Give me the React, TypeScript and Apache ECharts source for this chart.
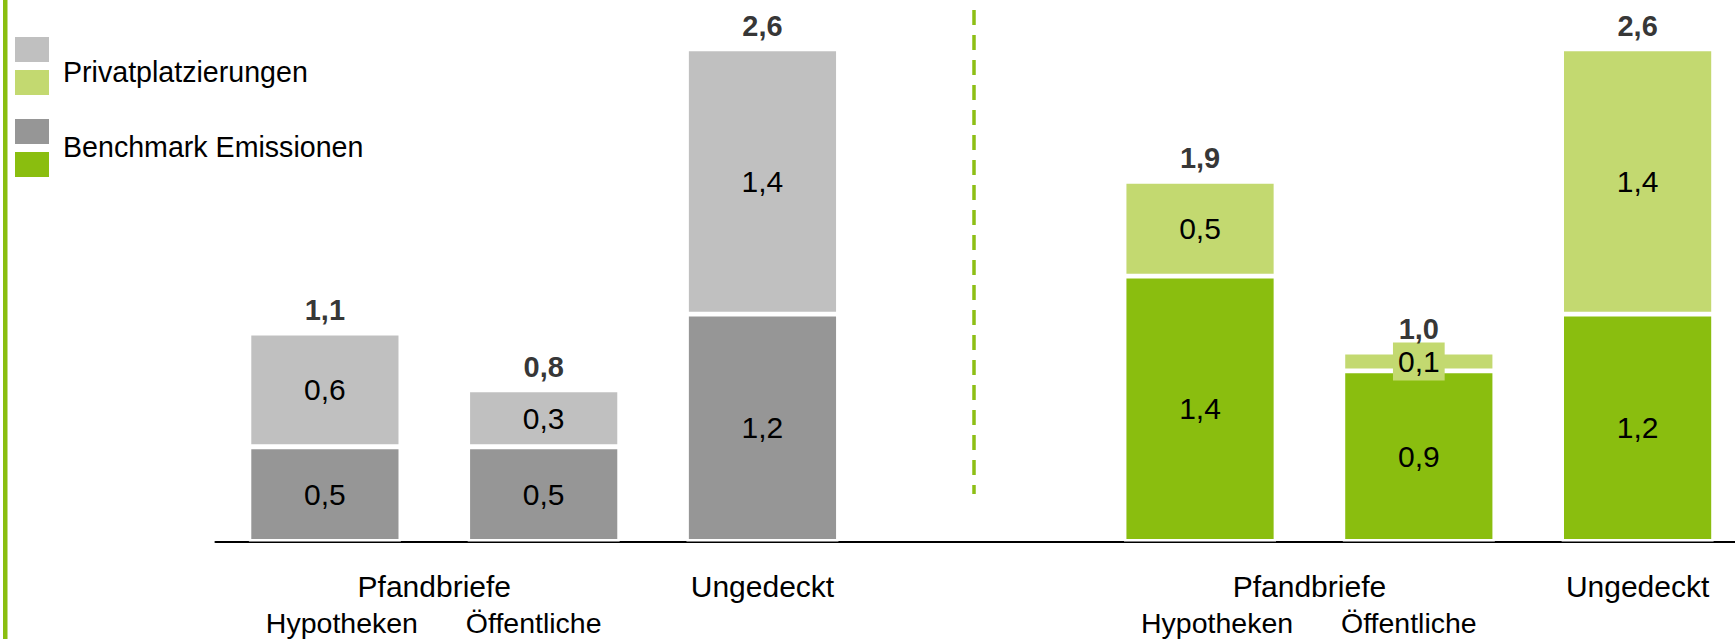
import React, { useEffect, useRef } from "react";
import * as echarts from "echarts";

// ---- data ----
const categories = ["Hyp-L", "Oeff-L", "Ung-L", "Gap", "Hyp-R", "Oeff-R", "Ung-R"];
const tickLabels = ["Hypotheken", "Öffentliche", "Ungedeckt", "", "Hypotheken", "Öffentliche", "Ungedeckt"];
const groupTickLabels = ["", "", "Pfandbriefe", "", "", "", "", "", "", "", "Pfandbriefe", "", "", "", ""];
const benchmark = [0.5, 0.5, 1.2, null, 1.4, 0.9, 1.2];
const privat = [0.6, 0.3, 1.4, null, 0.5, 0.1, 1.4];
const totals = [1.1, 0.8, 2.6, null, 1.9, 1.0, 2.6];
const panel = ["grey", "grey", "grey", null, "green", "green", "green"];
const legendNames = ["Privatplatzierungen", "Benchmark Emissionen"];

// ---- styles ----
const COLORS: any = {
  grey: { benchmark: "#969696", privat: "#C0C0C0" },
  green: { benchmark: "#8ABE0F", privat: "#C3D970" },
};
const FONT = "'Liberation Sans', Arial, Helvetica, sans-serif";
const fmt = (v: number) => v.toFixed(1).replace(".", ",");

export default function App() {
  const ref = useRef<HTMLDivElement>(null);

  useEffect(() => {
    if (!ref.current) return;
    const chart = echarts.init(ref.current, null, { renderer: "svg" });

    const barData = (values: (number | null)[], key: string) =>
      values.map((v, i) => {
        if (v == null) return "-";
        const color = COLORS[panel[i] as string][key];
        const item: any = { value: v, itemStyle: { color } };
        if (v < 0.2) {
          item.label = { backgroundColor: color, padding: [4, 5] };
        }
        return item;
      });

    const barLabel = {
      show: true,
      position: "inside",
      color: "#000",
      fontFamily: FONT,
      fontSize: 30,
      lineHeight: 30,
      formatter: (p: any) => fmt(p.value),
    };

    const option: any = {
      animation: false,
      backgroundColor: "#fff",
      grid: {
        left: 215.5,
        right: -12,
        top: 10.9,
        bottom: 97.5,
        containLabel: false,
        outerBoundsMode: "none",
      },
      xAxis: [
        {
          type: "category",
          data: categories,
          position: "bottom",
          axisLine: { show: true, onZero: false, lineStyle: { color: "#000", width: 2.2 } },
          axisTick: { show: false },
          splitLine: { show: false },
          axisLabel: {
            interval: 0,
            margin: 26,
            color: "#000",
            fontFamily: FONT,
            fontSize: 30,
            lineHeight: 38,
            formatter: (_v: string, i: number) => {
              const t = tickLabels[i];
              if (t === "Hypotheken") return "\n{h|" + t + "}";
              if (t === "Öffentliche") return "\n{o|" + t + "}";
              return t;
            },
            rich: {
              h: { fontFamily: FONT, fontSize: 28.5, lineHeight: 34, color: "#000", padding: [0, 0, 0, 34] },
              o: { fontFamily: FONT, fontSize: 28.5, lineHeight: 34, color: "#000", padding: [0, 20, 0, 0] },
            },
          },
        },
        {
          type: "category",
          data: groupTickLabels.map((_, i) => "slot" + i),
          position: "bottom",
          offset: 0,
          boundaryGap: false,
          axisLine: { show: false },
          axisTick: { show: false },
          splitLine: { show: false },
          axisLabel: {
            interval: 0,
            margin: 26,
            color: "#000",
            fontFamily: FONT,
            fontSize: 30,
            lineHeight: 38,
            formatter: (_v: string, i: number) => groupTickLabels[i],
          },
        },
      ],
      yAxis: {
        type: "value",
        min: 0,
        max: 2.8,
        show: false,
        splitLine: { show: false },
      },
      series: [
        {
          name: legendNames[1],
          type: "bar",
          stack: "total",
          barWidth: 152,
          xAxisIndex: 0,
          itemStyle: { borderColor: "#fff", borderWidth: 2.4 },
          label: barLabel,
          data: barData(benchmark, "benchmark"),
        },
        {
          name: legendNames[0],
          type: "bar",
          stack: "total",
          barWidth: 152,
          xAxisIndex: 0,
          itemStyle: { borderColor: "#fff", borderWidth: 2.4 },
          label: barLabel,
          data: barData(privat, "privat"),
        },
        {
          name: "Summe",
          type: "scatter",
          xAxisIndex: 0,
          symbol: "circle",
          symbolSize: 1,
          itemStyle: { color: "rgba(0,0,0,0)" },
          label: {
            show: true,
            position: "top",
            distance: 8,
            color: "#000",
            fontFamily: FONT,
            fontSize: 29,
            fontWeight: "bold",
            lineHeight: 29,
            formatter: (p: any) => fmt(p.value[1] !== undefined ? p.value[1] : p.value),
          },
          data: totals.map((v) => (v == null ? "-" : v)),
        },
      ],
      graphic: [
        // left accent bar
        { type: "rect", shape: { x: 3, y: 0, width: 4.5, height: 639 }, style: { fill: "#8ABE0F" }, silent: true },
        // legend
        { type: "rect", shape: { x: 15, y: 37, width: 34, height: 25 }, style: { fill: COLORS.grey.privat } },
        { type: "rect", shape: { x: 15, y: 70, width: 34, height: 25 }, style: { fill: COLORS.green.privat } },
        { type: "rect", shape: { x: 15, y: 119, width: 34, height: 25 }, style: { fill: COLORS.grey.benchmark } },
        { type: "rect", shape: { x: 15, y: 152, width: 34, height: 25 }, style: { fill: COLORS.green.benchmark } },
        {
          type: "text",
          x: 63,
          y: 72,
          style: { text: legendNames[0], fontFamily: FONT, fontSize: 28.6, fill: "#000", verticalAlign: "middle", align: "left" },
        },
        {
          type: "text",
          x: 63,
          y: 147,
          style: { text: legendNames[1], fontFamily: FONT, fontSize: 28.6, fill: "#000", verticalAlign: "middle", align: "left" },
        },
        // separator between panels
        {
          type: "line",
          shape: { x1: 974, y1: 10, x2: 974, y2: 494 },
          style: { stroke: "#8DBF14", lineWidth: 3.5, lineDash: [15, 10] },
          silent: true,
        },
      ],
    };

    chart.setOption(option);
    return () => chart.dispose();
  }, []);

  return (
    <div
      ref={ref}
      style={{ position: "absolute", left: 0, top: 0, width: 1735, height: 639, background: "#fff" }}
    />
  );
}
